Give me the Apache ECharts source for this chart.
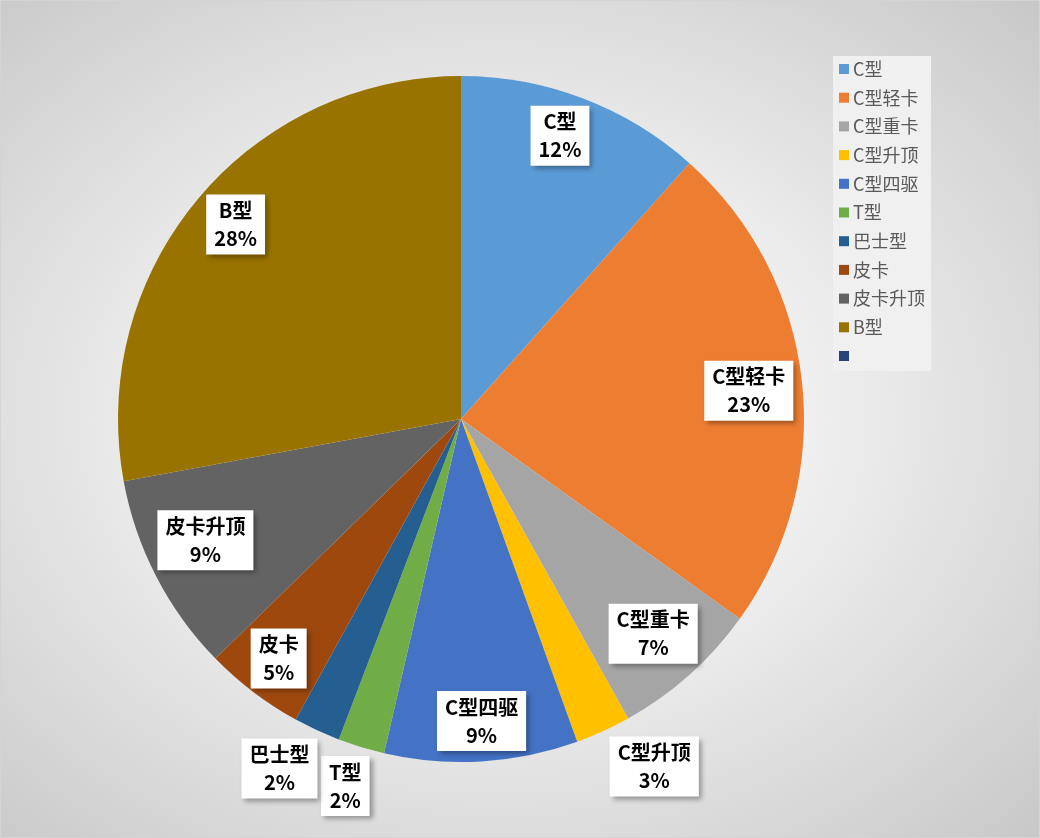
<!DOCTYPE html>
<html>
<head>
<meta charset="utf-8">
<script src="https://cdn.jsdelivr.net/npm/echarts@6/dist/echarts.min.js"></script>
<style>
  html, body { margin: 0; padding: 0; }
  #chart {
    width: 1040px; height: 838px;
    background: radial-gradient(farthest-corner at 48% 50%, #ffffff 0%, #f3f3f3 35%, #dcdcdc 70%, #c8c8c8 100%);
    box-sizing: border-box;
    border: 1px solid #d4d4d4;
  }
</style>
</head>
<body>
<div id="chart"></div>
<script>
// ---- data ----
const categories = ['C型', 'C型轻卡', 'C型重卡', 'C型升顶', 'C型四驱', 'T型', '巴士型', '皮卡', '皮卡升顶', 'B型', ' '];
const values     = [11.6,  23.3,     7.0,      2.6,      9.1,      2.2,   2.2,     4.7,   9.4,       27.9,  0];
const colors     = ['#5B9BD5', '#ED7D31', '#A5A5A5', '#FFC000', '#4472C4', '#70AD47', '#255E91', '#9E480E', '#636363', '#997300', '#264478'];
const outerLabelNames = ['C型升顶', 'T型', '巴士型'];

// ---- layout (label fine-tuning, pixels) ----
const labelNudge = {
  'C型': [-6, -8], 'C型轻卡': [-5, 4], 'C型重卡': [-4, -5], 'C型升顶': [30, -11],
  'C型四驱': [3, 8], 'T型': [-1, -10], '巴士型': [-16, -8], '皮卡': [-4, 5],
  '皮卡升顶': [6, -14], 'B型': [1, -6]
};

const FONT = '"Noto Sans CJK SC", "Microsoft YaHei", sans-serif';
const R = 343;
const CENTER = [460, 418];

const labelStyle = {
  color: '#000',
  fontFamily: FONT,
  fontSize: 20,
  fontWeight: 'bold',
  lineHeight: 28,
  align: 'center',
  backgroundColor: '#ffffff',
  padding: [2, 8, 2, 8],
  shadowBlur: 5,
  shadowOffsetX: 3,
  shadowOffsetY: 3,
  shadowColor: 'rgba(0,0,0,0.35)',
  formatter: p => p.name + '\n' + Math.round(p.percent) + '%'
};

const mainData = categories.map((c, i) => ({
  name: c, value: values[i], itemStyle: { color: colors[i] }
}));

function labelData(outer) {
  return categories.map((c, i) => {
    const isOuter = outerLabelNames.indexOf(c) >= 0;
    const show = c.trim() !== '' && (outer ? isOuter : !isOuter);
    return { name: c, value: values[i], label: { show: show } };
  });
}

function nudge(params) {
  const n = labelNudge[categories[params.dataIndex]] || [0, 0];
  return { dx: n[0], dy: n[1], hideOverlap: false };
}

const chart = echarts.init(document.getElementById('chart'), null, { renderer: 'canvas' });
chart.setOption({
  animation: false,
  legend: {
    orient: 'vertical',
    left: 832,
    top: 55,
    data: categories,
    icon: 'rect',
    itemWidth: 10,
    itemHeight: 10,
    itemGap: 8.7,
    padding: [3, 6, 5, 6],
    backgroundColor: '#f0f0f0',
    selectedMode: false,
    textStyle: { color: '#595959', fontFamily: FONT, fontSize: 18, lineHeight: 20, padding: [0, 0, 0, -1] }
  },
  series: [
    {
      type: 'pie',
      center: CENTER,
      radius: [0, R],
      startAngle: 90,
      clockwise: true,
      avoidLabelOverlap: false,
      label: { show: false },
      labelLine: { show: false },
      emphasis: { disabled: true },
      silent: true,
      data: mainData
    },
    {
      type: 'pie',
      center: CENTER,
      radius: [R * 0.7, R],
      startAngle: 90,
      avoidLabelOverlap: false,
      silent: true,
      emphasis: { disabled: true },
      itemStyle: { color: 'rgba(0,0,0,0)' },
      labelLine: { show: false },
      label: Object.assign({ position: 'inside' }, labelStyle),
      labelLayout: nudge,
      data: labelData(false)
    },
    {
      type: 'pie',
      center: CENTER,
      radius: [R, R * 1.28],
      startAngle: 90,
      avoidLabelOverlap: false,
      silent: true,
      emphasis: { disabled: true },
      itemStyle: { color: 'rgba(0,0,0,0)' },
      labelLine: { show: false },
      label: Object.assign({ position: 'inside' }, labelStyle),
      labelLayout: nudge,
      data: labelData(true)
    }
  ]
});
</script>
</body>
</html>
